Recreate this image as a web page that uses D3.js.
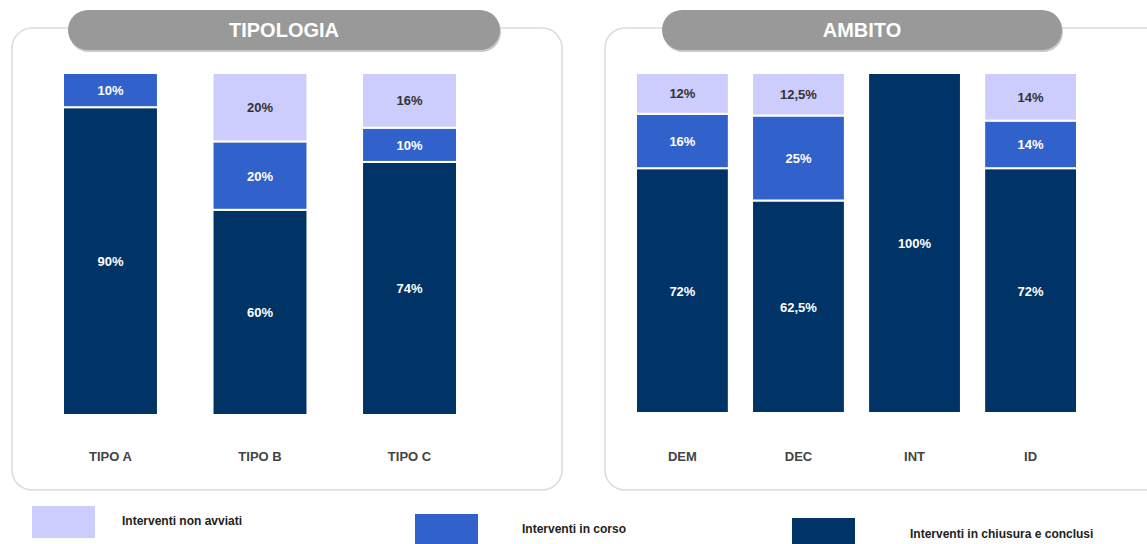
<!DOCTYPE html>
<html><head><meta charset="utf-8">
<script src="https://cdn.jsdelivr.net/npm/d3@7"></script>
<style>html,body{margin:0;padding:0;background:#fff;}svg{display:block;font-family:"Liberation Sans",Arial,sans-serif;}</style>
</head><body>
<svg id="c" width="1147" height="544"></svg>
<script>
const seriesKeys = ["conclusi", "inCorso", "nonAvviati"];
const seriesNames = ["Interventi in chiusura e conclusi", "Interventi in corso", "Interventi non avviati"];
const seriesColors = ["#003366", "#3162cc", "#ccccfd"];

const tipologiaCats = ["TIPO A", "TIPO B", "TIPO C"];
const tipologiaConclusi = [90, 60, 74];
const tipologiaInCorso = [10, 20, 10];
const tipologiaNonAvviati = [0, 20, 16];

const ambitoCats = ["DEM", "DEC", "INT", "ID"];
const ambitoConclusi = [72, 62.5, 100, 72];
const ambitoInCorso = [16, 25, 0, 14];
const ambitoNonAvviati = [12, 12.5, 0, 14];

const svg = d3.select("#c");
const fmt = v => String(v).replace(".", ",") + "%";

function panel(opts) {
  const g = svg.append("g");
  g.append("rect").attr("x", opts.px).attr("y", 28).attr("width", opts.pw).attr("height", 462)
    .attr("rx", 20).attr("fill", "#fff").attr("stroke", "#dcdcdc").attr("stroke-width", 1.5);
  g.append("rect").attr("x", opts.tx + 1).attr("y", 12).attr("width", opts.tw).attr("height", 40)
    .attr("rx", 20).attr("fill", "#c8c8c8");
  g.append("rect").attr("x", opts.tx).attr("y", 10).attr("width", opts.tw).attr("height", 40)
    .attr("rx", 20).attr("fill", "#999999");
  g.append("text").attr("x", opts.tx + opts.tw / 2).attr("y", 37).attr("text-anchor", "middle")
    .attr("fill", "#fff").attr("font-weight", "bold").attr("font-size", 20).text(opts.title);

  const data = opts.cats.map((c, i) => ({cat: c, conclusi: opts.a[i], inCorso: opts.b[i], nonAvviati: opts.c[i]}));
  const stack = d3.stack().keys(seriesKeys)(data);
  const x = d3.scaleBand().domain(opts.cats).range(opts.xr).paddingInner(opts.pad).paddingOuter(0);
  const y = d3.scaleLinear().domain([0, 100]).range([opts.yb, 73]);

  stack.forEach((layer, li) => {
    const lg = g.append("g");
    layer.forEach(d => {
      const v = d[1] - d[0];
      if (v <= 0) return;
      lg.append("rect").attr("x", x(d.data.cat)).attr("width", x.bandwidth())
        .attr("y", y(d[1])).attr("height", y(d[0]) - y(d[1]))
        .attr("fill", seriesColors[li]).attr("stroke", "#fff").attr("stroke-width", 2);
      lg.append("text").attr("x", x(d.data.cat) + x.bandwidth() / 2)
        .attr("y", (y(d[0]) + y(d[1])) / 2 + 5).attr("text-anchor", "middle")
        .attr("font-weight", "bold").attr("font-size", 13)
        .attr("fill", li === 2 ? "#333" : "#fff").text(fmt(v));
    });
  });

  const ax = d3.axisBottom(x).tickSize(0).tickPadding(0);
  const axg = g.append("g").attr("transform", `translate(0,${452})`).call(ax);
  axg.select(".domain").remove();
  axg.selectAll("text").attr("font-family", "Liberation Sans, Arial, sans-serif")
    .attr("font-size", 13).attr("font-weight", "bold").attr("fill", "#444");
}

panel({px: 12, pw: 550, tx: 68, tw: 432, title: "TIPOLOGIA", cats: tipologiaCats,
  a: tipologiaConclusi, b: tipologiaInCorso, c: tipologiaNonAvviati, xr: [63, 457], pad: 0.365, yb: 415});
panel({px: 605, pw: 560, tx: 662, tw: 400, title: "AMBITO", cats: ambitoCats,
  a: ambitoConclusi, b: ambitoInCorso, c: ambitoNonAvviati, xr: [636, 1077], pad: 0.2, yb: 413});

const legendItems = [
  {i: 2, sx: 32, sy: 506, tx: 122, ty: 525},
  {i: 1, sx: 415, sy: 514, tx: 522, ty: 533},
  {i: 0, sx: 792, sy: 518, tx: 910, ty: 538}
];
const leg = svg.append("g");
legendItems.forEach(it => {
  leg.append("rect").attr("x", it.sx).attr("y", it.sy).attr("width", 63).attr("height", 32)
    .attr("fill", seriesColors[it.i]);
  leg.append("text").attr("x", it.tx).attr("y", it.ty).attr("font-size", 12).attr("font-weight", "bold")
    .attr("fill", "#222").text(seriesNames[it.i]);
});
</script>
</body></html>
